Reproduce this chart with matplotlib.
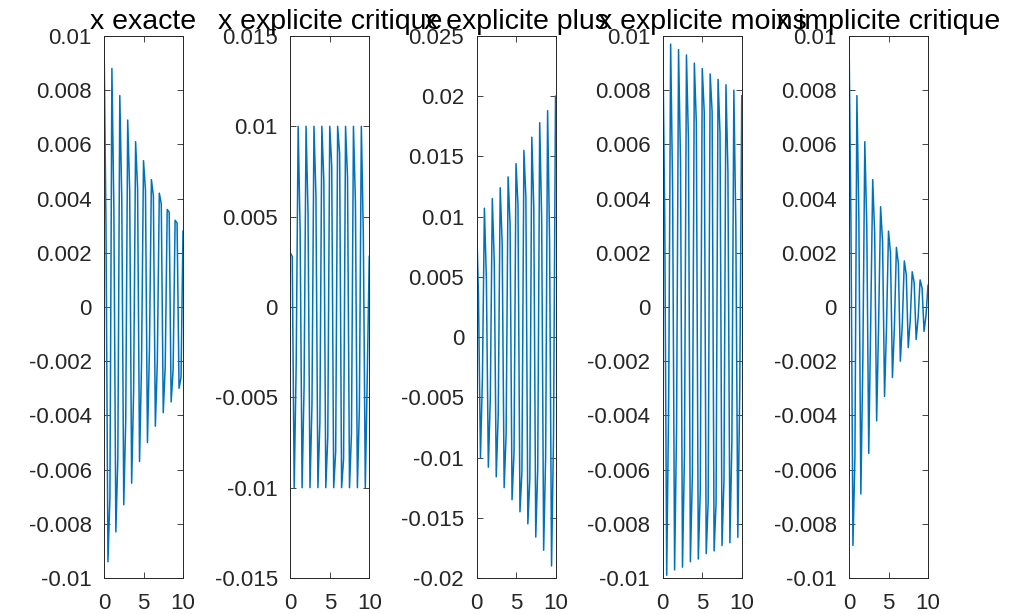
import numpy as np
import matplotlib
matplotlib.use("Agg")
import matplotlib.pyplot as plt
from matplotlib.ticker import FormatStrFormatter

plt.rcParams["font.family"] = ["Liberation Sans", "DejaVu Sans"]
plt.rcParams["axes.unicode_minus"] = False

# panel titles (MATLAB subplot titles, they overlap in the original too)
titles = ["x exacte", "x explicite critique", "x explicite plus",
          "x explicite moins", "x implicite critique"]

x_exacte = [
    0.0100, 0.0030, -0.0094, -0.0070,
    0.0088, 0.0036, -0.0083, -0.0056,
    0.0078, 0.0040, -0.0073, -0.0042,
    0.0069, 0.0043, -0.0065, -0.0031,
    0.0061, 0.0044, -0.0057, -0.0021,
    0.0054, 0.0043, -0.0050, -0.0016,
    0.0047, 0.0041, -0.0044, -0.0020,
    0.0042, 0.0038, -0.0039, -0.0022,
    0.0036, 0.0035, -0.0035, -0.0023,
    0.0032, 0.0031, -0.0030, -0.0026,
    0.0028,
]
x_critique = [
    0.0030, 0.0028, -0.0100, -0.0032,
    0.0100, 0.0042, -0.0100, -0.0044,
    0.0100, 0.0052, -0.0100, -0.0054,
    0.0100, 0.0062, -0.0100, -0.0064,
    0.0100, 0.0070, -0.0100, -0.0072,
    0.0100, 0.0078, -0.0100, -0.0080,
    0.0100, 0.0085, -0.0100, -0.0084,
    0.0100, 0.0072, -0.0100, -0.0070,
    0.0100, 0.0058, -0.0100, -0.0056,
    0.0100, 0.0040, -0.0100, -0.0038,
    0.0028,
]
x_plus = [
    0.0100, 0.0034, -0.0100, -0.0034,
    0.0107, 0.0048, -0.0108, -0.0050,
    0.0115, 0.0062, -0.0116, -0.0064,
    0.0124, 0.0078, -0.0125, -0.0080,
    0.0133, 0.0094, -0.0135, -0.0096,
    0.0144, 0.0110, -0.0145, -0.0112,
    0.0155, 0.0116, -0.0155, -0.0118,
    0.0166, 0.0108, -0.0166, -0.0110,
    0.0178, 0.0098, -0.0177, -0.0100,
    0.0188, 0.0080, -0.0190, -0.0082,
    0.0200,
]
x_moins = [
    0.0100, 0.0033, -0.0099, -0.0034,
    0.0097, 0.0043, -0.0097, -0.0044,
    0.0095, 0.0053, -0.0096, -0.0054,
    0.0093, 0.0062, -0.0094, -0.0062,
    0.0090, 0.0068, -0.0093, -0.0068,
    0.0088, 0.0072, -0.0091, -0.0072,
    0.0086, 0.0072, -0.0090, -0.0072,
    0.0084, 0.0064, -0.0088, -0.0064,
    0.0082, 0.0050, -0.0087, -0.0050,
    0.0080, 0.0030, -0.0085, -0.0030,
    0.0078,
]
x_implicite = [
    0.0100, 0.0030, -0.0088, -0.0055,
    0.0078, 0.0032, -0.0069, -0.0020,
    0.0061, 0.0030, -0.0054, -0.0005,
    0.0047, 0.0027, -0.0042, -0.0006,
    0.0037, 0.0024, -0.0033, -0.0007,
    0.0028, 0.0020, -0.0026, -0.0007,
    0.0022, 0.0016, -0.0020, -0.0006,
    0.0017, 0.0012, -0.0015, -0.0005,
    0.0013, 0.0009, -0.0012, -0.0004,
    0.0010, 0.0007, -0.0009, -0.0003,
    0.0008,
]
series = [x_exacte, x_critique, x_plus, x_moins, x_implicite]

# y limits and y ticks of each panel
y_limits = [(-0.01, 0.01), (-0.015, 0.015), (-0.02, 0.025), (-0.01, 0.01), (-0.01, 0.01)]
y_steps = [0.002, 0.005, 0.005, 0.002, 0.002]
x_ticks = [0, 5, 10]

fig = plt.figure(figsize=(10.13, 6.14), dpi=100)

for k in range(5):
    ax = fig.add_axes([(104 + 186.25 * k) / 1013, 36 / 614, 79 / 1013, 542 / 614])
    y = np.array(series[k])
    t = np.linspace(0, 10, len(y))
    ax.plot(t, y, color="#0072BD", linewidth=1.1)

    lo, hi = y_limits[k]
    ax.set_xlim(0, 10)
    ax.set_ylim(lo, hi)
    ax.set_xticks(x_ticks)
    ax.set_yticks(np.round(np.arange(lo, hi + y_steps[k] / 2, y_steps[k]), 4))
    ax.yaxis.set_major_formatter(FormatStrFormatter("%g"))

    ax.tick_params(direction="in", top=True, right=True, length=4, width=0.6,
                   color="#262626", labelcolor="#262626", labelsize=16)
    ax.tick_params(axis="y", pad=9)
    ax.tick_params(axis="x", pad=11)
    for s in ax.spines.values():
        s.set_color("#262626")
        s.set_linewidth(0.7)

    ax.set_title(titles[k], fontsize=20.5, color="black", pad=5)

fig.savefig("out.png", dpi=100)
